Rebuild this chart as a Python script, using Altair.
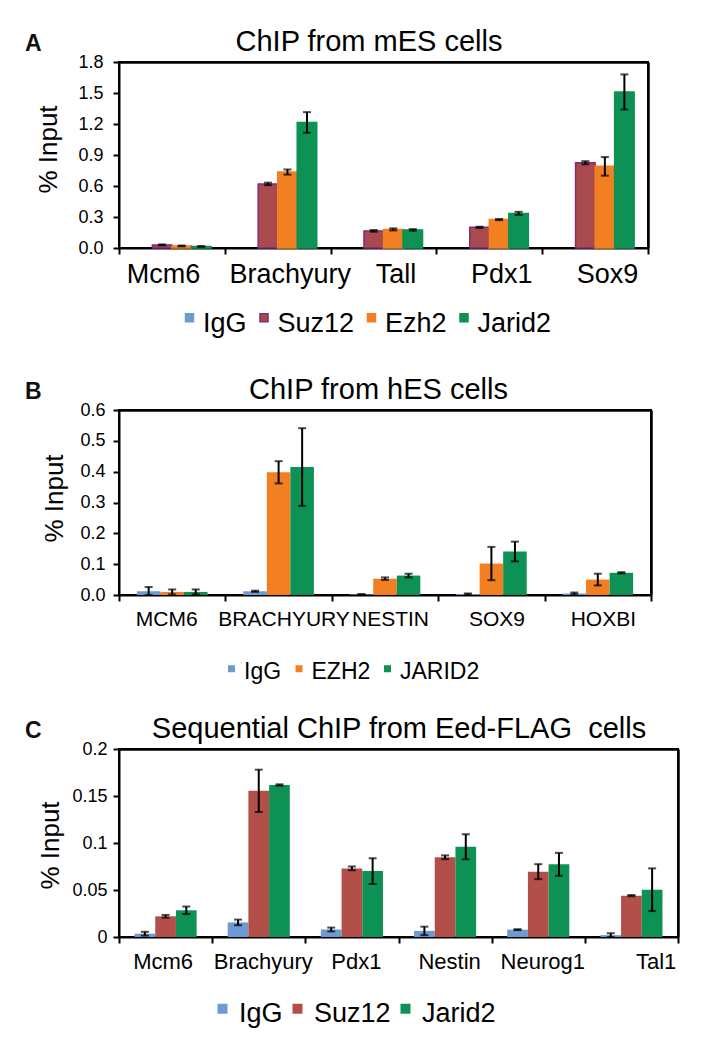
import altair as alt
import pandas as pd

FONT = "Liberation Sans"

# ---------------- Panel A: ChIP from mES cells ----------------
a_genes = ["Mcm6", "Brachyury", "Tall", "Pdx1", "Sox9"]
a_series = ["IgG", "Suz12", "Ezh2", "Jarid2"]
a_igg = [0.0, 0.0, 0.0, 0.0, 0.0]
a_suz12 = [0.03, 0.62, 0.165, 0.20, 0.825]
a_ezh2 = [0.02, 0.735, 0.18, 0.275, 0.79]
a_jarid2 = [0.015, 1.215, 0.175, 0.335, 1.51]
a_igg_err = [0.0, 0.0, 0.0, 0.0, 0.0]
a_suz12_err = [0.005, 0.012, 0.008, 0.006, 0.015]
a_ezh2_err = [0.004, 0.025, 0.01, 0.006, 0.09]
a_jarid2_err = [0.004, 0.10, 0.008, 0.015, 0.17]
a_colors = ["#6C9BD2", "#A84A4E", "#F28022", "#0E9155"]
a_strokes = ["#6C9BD2", "#7E2C73", "#F28022", "#0E9155"]
a_yticks = [0.0, 0.3, 0.6, 0.9, 1.2, 1.5, 1.8]

# ---------------- Panel B: ChIP from hES cells ----------------
b_genes = ["MCM6", "BRACHYURY", "NESTIN", "SOX9", "HOXBI"]
b_series = ["IgG", "EZH2", "JARID2"]
b_igg = [0.012, 0.012, 0.002, 0.003, 0.005]
b_ezh2 = [0.010, 0.398, 0.053, 0.102, 0.050]
b_jarid2 = [0.010, 0.415, 0.063, 0.141, 0.072]
b_igg_err = [0.014, 0.002, 0.001, 0.002, 0.003]
b_ezh2_err = [0.008, 0.036, 0.004, 0.054, 0.019]
b_jarid2_err = [0.008, 0.126, 0.006, 0.032, 0.002]
b_colors = ["#6C9BD2", "#F28022", "#0E9155"]
b_yticks = [0.0, 0.1, 0.2, 0.3, 0.4, 0.5, 0.6]

# ---------------- Panel C: Sequential ChIP ----------------
c_genes = ["Mcm6", "Brachyury", "Pdx1", "Nestin", "Neurog1", "Tal1"]
c_series = ["IgG", "Suz12", "Jarid2"]
c_igg = [0.0035, 0.0155, 0.008, 0.0065, 0.0078, 0.002]
c_suz12 = [0.022, 0.1555, 0.073, 0.0848, 0.0695, 0.044]
c_jarid2 = [0.0284, 0.1617, 0.0702, 0.096, 0.0773, 0.0503]
c_igg_err = [0.002, 0.003, 0.002, 0.0045, 0.0005, 0.002]
c_suz12_err = [0.0015, 0.0225, 0.002, 0.002, 0.008, 0.0007]
c_jarid2_err = [0.004, 0.0007, 0.0137, 0.0133, 0.0122, 0.0227]
c_colors = ["#6C9BD2", "#B24F49", "#0E9155"]
c_yticks = [0.0, 0.05, 0.1, 0.15, 0.2]


def make_df(genes, series, values, errors):
    rows = []
    for s, vals, errs in zip(series, values, errors):
        for g, v, e in zip(genes, vals, errs):
            rows.append({"gene": g, "s": s, "value": v, "err": e,
                         "lo": max(0.0, v - e), "hi": v + e})
    return pd.DataFrame(rows)


def panel(df, genes, series, colors, strokes, W, H, ymax, yvals, yfmt, ypad,
          ttl_x, ttl_y, xlab, xpad, pout, lx, ly, lsize, ssize, spath,
          loff, cpad, title, title_x, letter, anchor_bottom,
          first_off, other_off, label_align=None):
    x_axis_kw = dict(labelAngle=0, labelFontSize=xlab, labelFont=FONT,
                     labelColor="black", tickBand="extent", tickSize=6,
                     tickWidth=2, tickColor="black", domainColor="black",
                     domainWidth=2, labelPadding=xpad, title=None,
                     labelOffset={"condition": {
                         "test": "datum.label == '%s'" % genes[0],
                         "value": first_off}, "value": other_off})
    if label_align is not None:
        x_axis_kw["labelAlign"] = label_align
    xscale = alt.Scale(domain=genes, paddingInner=0, paddingOuter=0)
    X = alt.X("gene:N", sort=genes, title=None, scale=xscale,
              axis=alt.Axis(**x_axis_kw))
    Xn = alt.X("gene:N", sort=genes, title=None, scale=xscale, axis=None)
    XO = alt.XOffset("s:N", sort=series,
                     scale=alt.Scale(domain=series, paddingInner=0,
                                     paddingOuter=pout))
    y_axis = alt.Axis(values=yvals, format=yfmt, labelFontSize=18,
                      labelFont=FONT, labelColor="black", labelPadding=ypad,
                      tickSize=6, tickWidth=2, tickColor="black",
                      domainColor="black", domainWidth=2, grid=False,
                      titleFontSize=26, titleFont=FONT, titleColor="black",
                      titleFontWeight="normal", titleX=ttl_x, titleY=ttl_y,
                      titleAngle=270, titleAlign="center",
                      titleBaseline="middle")
    yscale = alt.Scale(domain=[0, ymax], nice=False, zero=True)

    leg = alt.Legend(title=None, orient="none", legendX=lx, legendY=ly,
                     direction="horizontal", symbolType=spath,
                     symbolSize=ssize, symbolStrokeWidth=1.5,
                     labelFontSize=lsize, labelFont=FONT, labelColor="black",
                     labelOffset=loff, columnPadding=cpad, padding=0,
                     gridAlign="each", symbolOpacity=1)
    enc = dict(
        x=X, xOffset=XO,
        y=alt.Y("value:Q", title="% Input", scale=yscale, axis=y_axis),
        fill=alt.Fill("s:N", sort=series,
                      scale=alt.Scale(domain=series, range=colors),
                      legend=leg),
    )
    base_bars = alt.Chart(df).transform_filter("datum.value > 0")
    if strokes is not None:
        enc["stroke"] = alt.Stroke("s:N", sort=series,
                                   scale=alt.Scale(domain=series, range=strokes),
                                   legend=leg)
        bars = base_bars.mark_bar(strokeWidth=1.5).encode(**enc)
    else:
        bars = base_bars.mark_bar(strokeWidth=0).encode(**enc)

    # invisible copy of the bars that only carries the top and right frame axes
    frame = alt.Chart(df).mark_bar(opacity=0).encode(
        x=alt.X("gene:N", sort=genes, title=None, scale=xscale,
                axis=alt.Axis(orient="top", labels=False, ticks=False,
                              domain=True, domainColor="black",
                              domainWidth=2.5, title=None, grid=False)),
        xOffset=XO,
        y=alt.Y("value:Q", title=None, scale=yscale,
                axis=alt.Axis(orient="right", labels=False, ticks=False,
                              domain=True, domainColor="black",
                              domainWidth=2.5, title=None, grid=False)))

    errs = alt.Chart(df).transform_filter("datum.err > 0")
    rule = errs.mark_rule(color="black", strokeWidth=2).encode(
        x=Xn, xOffset=XO,
        y=alt.Y("lo:Q", scale=yscale, axis=None),
        y2="hi:Q")
    cap_lo = errs.mark_tick(color="black", thickness=2, size=8).encode(
        x=Xn, xOffset=XO,
        y=alt.Y("lo:Q", scale=yscale, axis=None))
    cap_hi = errs.mark_tick(color="black", thickness=2, size=8).encode(
        x=Xn, xOffset=XO,
        y=alt.Y("hi:Q", scale=yscale, axis=None))

    ttl = alt.Chart(pd.DataFrame({"t": [title]})).mark_text(
        font=FONT, fontSize=29, align="center", baseline="alphabetic",
        color="black").encode(text="t:N", x=alt.value(title_x),
                              y=alt.value(-11.5))
    let = alt.Chart(pd.DataFrame({"t": [letter]})).mark_text(
        font=FONT, fontSize=23, fontWeight="bold", align="left",
        baseline="alphabetic", color="#111111").encode(
        text="t:N", x=alt.value(-94), y=alt.value(-11.5))
    anchor = alt.Chart(pd.DataFrame({"a": [0]})).mark_rule(
        opacity=0, strokeWidth=0).encode(
        x=alt.value(-100), y=alt.value(-40), y2=alt.value(anchor_bottom))

    return alt.layer(bars, frame, rule, cap_lo, cap_hi, ttl, let,
                     anchor).resolve_axis(
        x="independent", y="independent").properties(
        width=W, height=H,
        view=alt.ViewBackground(stroke="black", strokeWidth=2))


dfA = make_df(a_genes, a_series, [a_igg, a_suz12, a_ezh2, a_jarid2],
              [a_igg_err, a_suz12_err, a_ezh2_err, a_jarid2_err])
dfB = make_df(b_genes, b_series, [b_igg, b_ezh2, b_jarid2],
              [b_igg_err, b_ezh2_err, b_jarid2_err])
dfC = make_df(c_genes, c_series, [c_igg, c_suz12, c_jarid2],
              [c_igg_err, c_suz12_err, c_jarid2_err])

pA = panel(dfA, a_genes, a_series, a_colors, a_strokes, 529, 186, 1.8,
           a_yticks, ".1f", 10, -71, 87, 27, 7, 0.71, 57, 248.5, 27, 64,
           "M-1,-2.6H1V-0.6H-1Z", 0, 3.5, "ChIP from mES cells", 250, "A",
           306, -9, 12)
pB = panel(dfB, b_genes, b_series, b_colors, None, 532, 185, 0.6,
           b_yticks, ".1f", 8, -65, 88, 21, 7, 0.76, 101, 250.5, 23, 49,
           "M-1,-2H1V0H-1Z", 1, 5.5, "ChIP from hES cells", 259.5, "B", 297,
           -6, 5)
pC = panel(dfC, c_genes, c_series, c_colors, None, 559, 188, 0.2,
           c_yticks, "~g", 6, -68.5, 96, 22, 8, 0.75, 90, 251, 27, 100,
           "M-1,-2H1V0H-1Z", 3, 1,
           "Sequential ChIP from Eed-FLAG\u00a0 cells",
           280, "C", 280, -3, 4,
           label_align={"condition": {"test": "datum.label == 'Tal1'",
                                      "value": "left"},
                        "value": "center"})

chart = alt.vconcat(pA, pB, pC, spacing=0).resolve_scale(
    x="independent", y="independent", xOffset="independent",
    fill="independent", stroke="independent").resolve_legend(
    fill="independent", stroke="independent").properties(
    padding={"left": 10, "top": 13, "right": 5, "bottom": 0}).configure(
    font=FONT).configure_view(stroke="black", strokeWidth=2)

chart.save("out.html", embed_options={"renderer": "svg", "actions": False})
